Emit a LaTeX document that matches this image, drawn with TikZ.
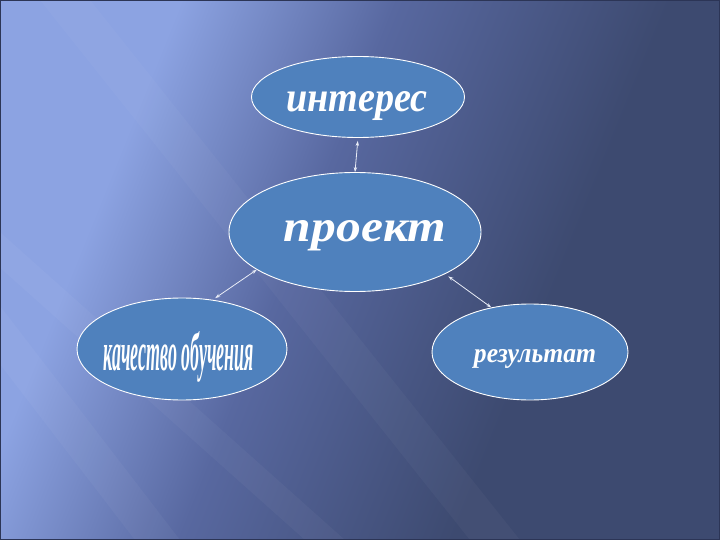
\documentclass[tikz,border=0pt]{standalone}
\usepackage{fontspec}
\setmainfont{Liberation Serif}
\usetikzlibrary{shapes.geometric,arrows.meta}
\definecolor{bgA}{HTML}{8CA3E2}
\definecolor{bgB}{HTML}{5868A0}
\definecolor{bgC}{HTML}{3D4A70}
\definecolor{ellfill}{HTML}{4F81BD}
\definecolor{framec}{HTML}{2C3556}
\definecolor{arrowc}{HTML}{E8ECF6}
\pgfdeclarehorizontalshading{bgshade}{100bp}{color(0bp)=(bgA); color(30bp)=(bgA); color(45bp)=(bgB); color(64bp)=(bgC); color(100bp)=(bgC)}
\begin{document}
\begin{tikzpicture}[x=1pt,y=-1pt,
  bubble/.style={ellipse, draw=white, line width=0.9pt, fill=ellfill, inner sep=0pt},
  label/.style={anchor=base, inner sep=0pt, text=white, font=\bfseries\itshape},
  link/.style={draw=arrowc, line width=0.8pt, {Stealth[length=5pt,width=3.5pt]}-{Stealth[length=5pt,width=3.5pt]}}]
\useasboundingbox (0,0) rectangle (720,540);
\shade[shading=bgshade, shading angle=-22] (0,0) rectangle (720,540);
% light rays
\fill[white, opacity=0.035] (-280,0) -- (-235,0) -- (180,540) -- (135,540) -- cycle;
\fill[white, opacity=0.035] (-300,0) -- (-260,0) -- (345,540) -- (305,540) -- cycle;
\fill[white, opacity=0.03] (40,0) -- (90,0) -- (520,540) -- (470,540) -- cycle;
\draw[framec, line width=1.4pt] (0.7,0.7) rectangle (719.3,539.3);
% nodes
\node[bubble, minimum width=213pt, minimum height=81pt] (i) at (358,97) {};
\node[bubble, minimum width=252pt, minimum height=119pt] (p) at (355,232) {};
\node[bubble, minimum width=210pt, minimum height=102pt] (k) at (182,349) {};
\node[bubble, minimum width=196pt, minimum height=96pt] (r) at (530,352) {};
\node[label] (ti) at (357,112) {\resizebox{141pt}{20pt}{интерес}};
\node[label] (tp) at (365,242) {\resizebox{162pt}{21pt}{проект}};
\node[label] (tk) at (179,370) {\resizebox{150pt}{39pt}{качество обучения}};
\node[label] (tr) at (535,362) {\resizebox{122pt}{13pt}{результат}};
% connectors
\draw[link, shorten >=3pt] (p.north) -- (i.south);
\draw[link, shorten >=3pt] (p.201) -- (k.58);
\draw[link, shorten <=4pt] (p.335) -- (r.131);
\end{tikzpicture}
\end{document}
